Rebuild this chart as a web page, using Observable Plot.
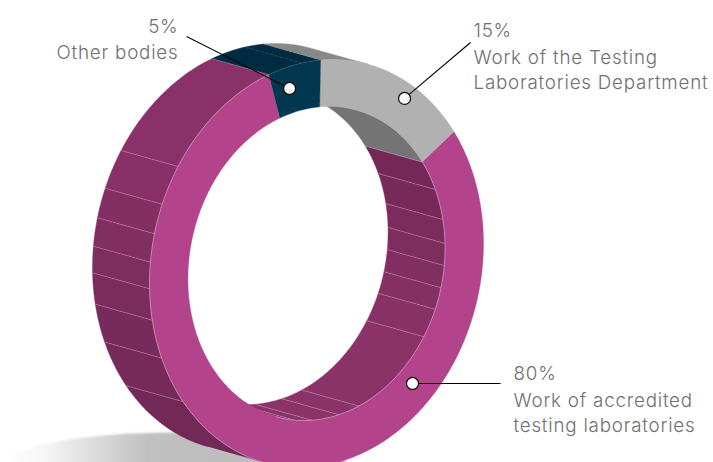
<!DOCTYPE html>
<html><head><meta charset="utf-8">
<script src="https://cdn.jsdelivr.net/npm/d3@7"></script>
<script src="https://cdn.jsdelivr.net/npm/@observablehq/plot@0.6"></script>
<style>html,body{margin:0;padding:0;background:#fff}svg{display:block}</style>
</head><body><div id="chart"></div>
<script>
// Chart values
const categories = ["Work of the Testing Laboratories Department", "Work of accredited testing laboratories", "Other bodies"];
const shares = [15, 80, 5];
const faceColors = ["#b1b1b1", "#b3438a", "#03374f"];
const outerWallColors = ["#888888", null, "#012b40"];
const innerWallColors = ["#747474", null, "#012b40"];
// Seams of the extruded wall, in degrees around the ring
const outerSeams = [143, 158, 169.5, 178.5, 186, 194, 202.5, 214];
const innerSeams = [-22.5, -10.6, -1.7, 6.4, 14.5, 22.6, 33.4, 70.8, 80, 92, 100, 108];
const topSeams = [265];
const labelLines = [
  ["5%", 178, 26, "end"], ["Other bodies", 178, 52, "end"],
  ["15%", 473, 30, "start"], ["Work of the Testing", 473, 57, "start"], ["Laboratories Department", 473, 82, "start"],
  ["80%", 513, 373, "start"], ["Work of accredited", 513, 400, "start"], ["testing laboratories", 513, 425, "start"]
];
const leaders = [
  {angle: -100.4, ring: 0.893, x2: 186, y2: 36},
  {angle: -55.3, ring: 0.926, x2: 470, y2: 42},
  {angle: 48.4, ring: 0.866, x2: 500, y2: 383}
];

// Ring projection
const cx = 316, cy = 263, ex = -57, ey = -16;
const R = 1, rIn = 0.77, A = 167, C = -20, D = 203;
const rad = d => d * Math.PI / 180;
const pt = (t, r, back = 0) => ({
  x: cx + r * A * Math.cos(rad(t)) + back * ex,
  y: cy + r * (C * Math.cos(rad(t)) + D * Math.sin(rad(t))) + back * ey
});
const arc = (t0, t1, r, back = 0) => {
  const n = Math.max(2, Math.ceil(Math.abs(t1 - t0) / 1.5));
  return d3.range(n + 1).map(i => pt(t0 + (t1 - t0) * i / n, r, back));
};
const start = -88.6;
let acc = start;
const slices = shares.map((s, i) => {
  const a0 = acc; acc += s * 3.6;
  return {i, a0, a1: acc};
});
const [gray, mag, navy] = slices;
const poly = (id, color, pts) => pts.map(p => ({...p, id, color}));
const wall = (id, color, t0, t1, r) => poly(id, color, [...arc(t0, t1, r), ...arc(t1, t0, r, 1)]);

const faces = slices.flatMap(s => poly("f" + s.i, faceColors[s.i], [...arc(s.a0, s.a1, R), ...arc(s.a1, s.a0, rIn)]));

const outerTan0 = 108.2, outerTan1 = 288.2;
const magOuterEdges = [outerTan0, ...outerSeams, navy.a0];
const outerMag = d3.interpolateRgb("#722958", "#8b3169");
let walls = [];
d3.pairs(magOuterEdges).forEach(([a, b], i) => {
  const u = Math.pow(i / (magOuterEdges.length - 2), 1.1);
  walls.push(...wall("om" + i, outerMag(u), a, b, R));
});
walls.push(...wall("on", outerWallColors[2], navy.a0, navy.a1, R));
walls.push(...wall("og", outerWallColors[0], navy.a1, outerTan1, R));
const innerEdges = [gray.a1, ...innerSeams, outerTan0];
const innerMag = d3.interpolateRgb("#742858", "#8b3369");
d3.pairs(innerEdges).forEach(([a, b], i) => {
  const u = Math.min(1, i / 7);
  walls.push(...wall("im" + i, innerMag(u), a, b, rIn));
});
walls.push(...wall("ig", innerWallColors[0], -71.8, gray.a1, rIn));

const seamLines = [
  ...outerSeams.map(t => [pt(t, R), pt(t, R, 1)].map(p => ({...p, id: "s" + t}))),
  ...innerSeams.map(t => [pt(t, rIn), pt(t, rIn, 1)].map(p => ({...p, id: "i" + t}))),
  [pt(mag.a0, rIn), pt(mag.a0, rIn, 1)].map(p => ({...p, id: "g1"})),
  [pt(navy.a0, R), pt(navy.a0, R, 1)].map(p => ({...p, id: "n0"}))
].flat();
const topLines = [
  ...topSeams.map(t => [pt(t, R), pt(t, R, 1)].map(p => ({...p, id: "t" + t}))),
  [pt(navy.a1, R), pt(navy.a1, R, 1)].map(p => ({...p, id: "n1"}))
].flat();
const edgeLines = [
  ...arc(outerTan0, navy.a0, R).map(p => ({...p, id: "e1"})),
  ...arc(gray.a1, outerTan0, rIn).map(p => ({...p, id: "e2"}))
];
const navyEdge = arc(navy.a0, navy.a1, R).map(p => ({...p, id: "e3"}));

// Ground shadow
const shadow = d3.range(0, 361, 3).map(t => ({x: 175 + 172 * Math.cos(rad(t)), y: 465 + 33 * Math.sin(rad(t))}));
const defs = () => {
  const ns = "http://www.w3.org/2000/svg";
  const d = document.createElementNS(ns, "defs");
  const g = document.createElementNS(ns, "linearGradient");
  g.setAttribute("id", "shadowFade");
  g.setAttribute("x1", "0"); g.setAttribute("x2", "1");
  [[0, "#ffffff"], [0.12, "#f6f6f6"], [0.25, "#dedede"], [0.42, "#c0c0c0"], [1, "#bcbcbc"]].forEach(([o, c]) => {
    const s = document.createElementNS(ns, "stop");
    s.setAttribute("offset", o); s.setAttribute("stop-color", c);
    g.appendChild(s);
  });
  d.appendChild(g);
  return d;
};
const soften = (i, s, v, dim, c, next) => {
  const g = next(i, s, v, dim, c);
  g.style.filter = "blur(1.2px)";
  return g;
};

const leaderData = leaders.map(l => {
  const p = pt(l.angle, l.ring);
  return {x1: p.x, y1: p.y, x2: l.x2, y2: l.y2};
});
const labels = labelLines.map(([text, x, y, anchor]) => ({text, x, y, anchor}));
const textOpts = {x: "x", y: "y", text: "text", fill: "#707070", fontSize: 18.8, lineAnchor: "middle", fontFamily: "Inter", fontWeight: 300};

const chart = Plot.plot({
  width: 713, height: 462,
  marginTop: 0, marginRight: 0, marginBottom: 0, marginLeft: 0,
  x: {domain: [0, 713], range: [0, 713], axis: null},
  y: {domain: [0, 462], range: [0, 462], axis: null},
  color: {type: "identity"},
  marks: [
    defs,
    Plot.line(shadow, {x: "x", y: "y", fill: "url(#shadowFade)", stroke: "none", render: soften}),
    Plot.line(walls, {x: "x", y: "y", z: "id", fill: "color", stroke: "color", strokeWidth: 0.4}),
    Plot.line(seamLines, {x: "x", y: "y", z: "id", stroke: "#d9a5c8", strokeWidth: 0.6, strokeOpacity: 0.65, strokeDasharray: "3 1"}),
    Plot.line(topLines, {x: "x", y: "y", z: "id", stroke: "#9fb1bb", strokeWidth: 0.5, strokeOpacity: 0.4, strokeDasharray: "3 2"}),
    Plot.line(faces, {x: "x", y: "y", z: "id", fill: "color", stroke: "color", strokeWidth: 0.4}),
    Plot.line(edgeLines, {x: "x", y: "y", z: "id", stroke: "#e3bcd6", strokeWidth: 0.7, strokeOpacity: 0.7}),
    Plot.line(navyEdge, {x: "x", y: "y", z: "id", stroke: "#9fb1bb", strokeWidth: 0.5, strokeOpacity: 0.35}),
    Plot.link(leaderData, {x1: "x1", y1: "y1", x2: "x2", y2: "y2", stroke: "#000", strokeWidth: 1.1}),
    Plot.dot(leaderData, {x: "x1", y: "y1", r: 6, fill: "#fff", stroke: "#111", strokeWidth: 1.3}),
    Plot.text(labels.filter(d => d.anchor === "start"), {...textOpts, textAnchor: "start"}),
    Plot.text(labels.filter(d => d.anchor === "end"), {...textOpts, textAnchor: "end"})
  ]
});
chart.querySelectorAll("text").forEach(t => t.style.letterSpacing = "0.78px");
document.getElementById("chart").appendChild(chart);
</script></body></html>
